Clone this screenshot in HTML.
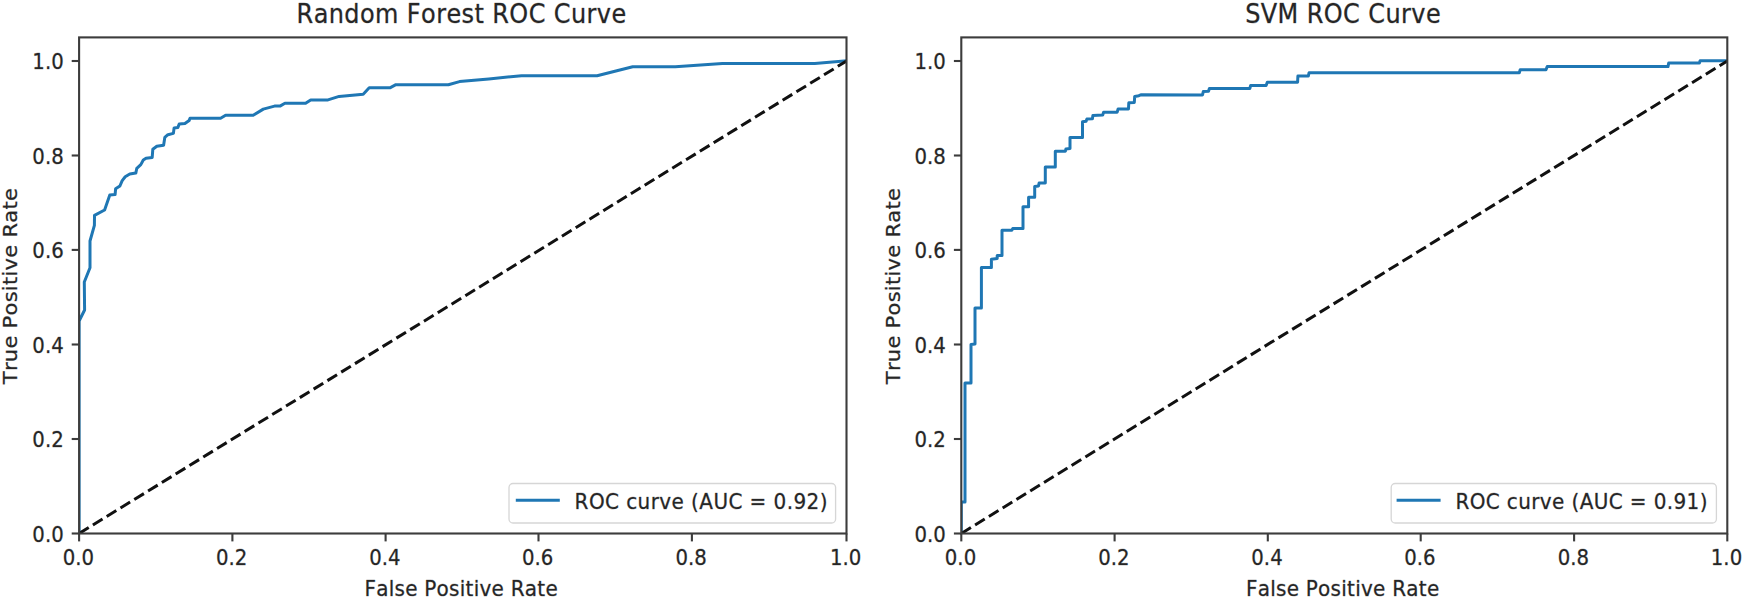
<!DOCTYPE html>
<html lang="en">
<head>
<meta charset="utf-8">
<title>ROC Curves</title>
<style>
html,body{margin:0;padding:0;background:#fff;}
body{width:1744px;height:598px;overflow:hidden;}
svg{display:block;}
text{font-family:"DejaVu Sans","Liberation Sans",sans-serif;fill:#262626;stroke:#262626;stroke-opacity:0.33;stroke-width:0.8px;stroke-linejoin:round;}

.tk{font-size:19.7px;}
.lb{font-size:20px;font-kerning:none;letter-spacing:0.25px;}
.tt{font-size:24px;font-kerning:none;letter-spacing:0.4px;}
</style>
</head>
<body>
<svg width="1744" height="598" viewBox="0 0 1744 598">
<rect x="0" y="0" width="1744" height="598" fill="#ffffff"/>
<g>

<g id="plot1">
<clipPath id="clip1"><rect x="79.1" y="37.4" width="767.4" height="496.1"/></clipPath>
<g clip-path="url(#clip1)">
<path d="M79.1 533.4 L79.1 321.0 L84.6 310.0 L84.3 282.0 L90.0 267.7 L90.0 241.0 L94.4 225.4 L94.5 215.4 L104.6 210.0 L109.8 195.0 L115.1 194.5 L115.6 188.8 L119.9 186.0 L122.2 180.6 L125.2 176.8 L129.8 174.0 L135.8 173.1 L136.8 168.3 L140.8 164.6 L143.3 160.0 L146.0 158.3 L152.2 157.5 L152.8 149.3 L156.8 146.3 L163.6 145.2 L164.8 137.4 L167.9 134.7 L173.4 133.4 L174.1 127.9 L177.9 127.4 L179.2 124.1 L184.9 123.4 L189.2 120.4 L190.0 118.3 L220.6 118.3 L225.6 115.3 L253.2 115.3 L263.3 109.1 L274.5 106.1 L280.4 105.9 L284.9 103.3 L305.6 103.3 L310.7 99.9 L328.0 99.9 L339.1 96.4 L363.2 94.2 L369.2 87.8 L389.9 87.8 L395.9 84.7 L448.4 84.7 L459.5 81.6 L488.8 78.9 L521.5 75.7 L597.1 75.8 L632.7 66.8 L675.3 66.8 L722.4 63.4 L814.8 63.4 L846.4 60.8" fill="none" stroke="#1f77b4" stroke-width="3" stroke-linejoin="round" stroke-linecap="square"/>
<path d="M79.1 533.5 L846.5 61.0" fill="none" stroke="#111" stroke-width="3" stroke-dasharray="11.3 4.9"/>
</g>
<path d="M79.1 533.5 v7.9" stroke="#3c3c3c" stroke-width="2.1"/>
<text class="tk" transform="translate(78.3 564.9) scale(1 1.09)" text-anchor="middle">0.0</text>
<path d="M79.1 533.5 h-7.4" stroke="#3c3c3c" stroke-width="2.1"/>
<text class="tk" transform="translate(63.7 541.9) scale(1 1.09)" text-anchor="end">0.0</text>
<path d="M232.4 533.5 v7.9" stroke="#3c3c3c" stroke-width="2.1"/>
<text class="tk" transform="translate(231.6 564.9) scale(1 1.09)" text-anchor="middle">0.2</text>
<path d="M79.1 439.0 h-7.4" stroke="#3c3c3c" stroke-width="2.1"/>
<text class="tk" transform="translate(63.7 447.4) scale(1 1.09)" text-anchor="end">0.2</text>
<path d="M385.6 533.5 v7.9" stroke="#3c3c3c" stroke-width="2.1"/>
<text class="tk" transform="translate(384.8 564.9) scale(1 1.09)" text-anchor="middle">0.4</text>
<path d="M79.1 344.5 h-7.4" stroke="#3c3c3c" stroke-width="2.1"/>
<text class="tk" transform="translate(63.7 352.9) scale(1 1.09)" text-anchor="end">0.4</text>
<path d="M538.5 533.5 v7.9" stroke="#3c3c3c" stroke-width="2.1"/>
<text class="tk" transform="translate(537.7 564.9) scale(1 1.09)" text-anchor="middle">0.6</text>
<path d="M79.1 249.9 h-7.4" stroke="#3c3c3c" stroke-width="2.1"/>
<text class="tk" transform="translate(63.7 258.3) scale(1 1.09)" text-anchor="end">0.6</text>
<path d="M691.9 533.5 v7.9" stroke="#3c3c3c" stroke-width="2.1"/>
<text class="tk" transform="translate(691.1 564.9) scale(1 1.09)" text-anchor="middle">0.8</text>
<path d="M79.1 155.5 h-7.4" stroke="#3c3c3c" stroke-width="2.1"/>
<text class="tk" transform="translate(63.7 163.9) scale(1 1.09)" text-anchor="end">0.8</text>
<path d="M846.5 533.5 v7.9" stroke="#3c3c3c" stroke-width="2.1"/>
<text class="tk" transform="translate(845.7 564.9) scale(1 1.09)" text-anchor="middle">1.0</text>
<path d="M79.1 61.0 h-7.4" stroke="#3c3c3c" stroke-width="2.1"/>
<text class="tk" transform="translate(63.7 69.4) scale(1 1.09)" text-anchor="end">1.0</text>
<rect x="79.1" y="37.4" width="767.4" height="496.1" fill="none" stroke="#3c3c3c" stroke-width="2.1"/>
<text class="tt" transform="translate(461.6 23.2) scale(1 1.09)" text-anchor="middle">Random Forest ROC Curve</text>
<text class="lb" transform="translate(461.2 595.6) scale(1 1.09)" text-anchor="middle">False Positive Rate</text>
<text class="lb" transform="translate(17.4 286.0) rotate(-90) scale(1.052 1)" text-anchor="middle">True Positive Rate</text>
<rect x="509.0" y="483.5" width="326.6" height="39.5" rx="4" ry="4" fill="#fff" fill-opacity="0.8" stroke="#cccccc" stroke-opacity="0.8" stroke-width="1.3"/>
<path d="M517.3 500.2 h41" stroke="#1f77b4" stroke-width="3" stroke-linecap="square"/>
<text class="lb" transform="translate(574.6 509.4) scale(1 1.09)" text-anchor="start" style="letter-spacing:0.42px">ROC curve (AUC = 0.92)</text>
</g>
<g id="plot2">
<clipPath id="clip2"><rect x="961.3" y="37.4" width="766.0" height="496.1"/></clipPath>
<g clip-path="url(#clip2)">
<path d="M961.3 533.4 L961.3 502.1 L965.0 502.1 L965.0 383.0 L971.0 383.0 L971.0 344.5 L975.0 344.0 L975.0 308.0 L981.4 308.0 L981.4 267.4 L991.4 267.4 L991.4 259.2 L997.2 258.6 L997.2 255.5 L1002.0 255.5 L1002.0 230.3 L1011.8 230.3 L1012.7 228.6 L1023.0 228.6 L1023.0 206.8 L1028.6 206.8 L1028.6 197.2 L1034.7 197.2 L1034.7 186.5 L1038.5 186.0 L1039.1 183.1 L1045.3 183.0 L1045.3 167.0 L1055.3 167.0 L1055.3 151.3 L1065.4 151.2 L1065.9 149.0 L1070.0 148.6 L1070.0 137.4 L1082.5 137.4 L1082.5 121.8 L1086.1 121.2 L1086.9 119.0 L1092.4 118.7 L1092.9 115.4 L1102.7 115.0 L1103.6 112.2 L1117.2 112.2 L1118.1 108.9 L1128.5 108.9 L1128.8 102.8 L1134.3 102.5 L1134.7 96.4 L1138.9 95.7 L1140.8 94.8 L1202.5 94.9 L1203.3 91.6 L1208.5 91.3 L1209.4 88.5 L1249.8 88.5 L1250.6 85.6 L1266.1 85.6 L1267.3 82.3 L1297.6 82.3 L1297.9 76.1 L1308.3 76.1 L1309.1 72.7 L1519.3 72.7 L1520.2 69.7 L1546.0 69.7 L1547.2 66.6 L1668.0 66.6 L1668.7 63.1 L1699.4 63.1 L1700.1 60.8 L1727.3 60.8" fill="none" stroke="#1f77b4" stroke-width="3" stroke-linejoin="round" stroke-linecap="square"/>
<path d="M961.3 533.5 L1727.3 61.0" fill="none" stroke="#111" stroke-width="3" stroke-dasharray="11.3 4.9"/>
</g>
<path d="M961.3 533.5 v7.9" stroke="#3c3c3c" stroke-width="2.1"/>
<text class="tk" transform="translate(960.5 564.9) scale(1 1.09)" text-anchor="middle">0.0</text>
<path d="M961.3 533.5 h-7.4" stroke="#3c3c3c" stroke-width="2.1"/>
<text class="tk" transform="translate(945.9 541.9) scale(1 1.09)" text-anchor="end">0.0</text>
<path d="M1114.6 533.5 v7.9" stroke="#3c3c3c" stroke-width="2.1"/>
<text class="tk" transform="translate(1113.8 564.9) scale(1 1.09)" text-anchor="middle">0.2</text>
<path d="M961.3 439.0 h-7.4" stroke="#3c3c3c" stroke-width="2.1"/>
<text class="tk" transform="translate(945.9 447.4) scale(1 1.09)" text-anchor="end">0.2</text>
<path d="M1267.8 533.5 v7.9" stroke="#3c3c3c" stroke-width="2.1"/>
<text class="tk" transform="translate(1267.0 564.9) scale(1 1.09)" text-anchor="middle">0.4</text>
<path d="M961.3 344.5 h-7.4" stroke="#3c3c3c" stroke-width="2.1"/>
<text class="tk" transform="translate(945.9 352.9) scale(1 1.09)" text-anchor="end">0.4</text>
<path d="M1420.7 533.5 v7.9" stroke="#3c3c3c" stroke-width="2.1"/>
<text class="tk" transform="translate(1419.9 564.9) scale(1 1.09)" text-anchor="middle">0.6</text>
<path d="M961.3 249.9 h-7.4" stroke="#3c3c3c" stroke-width="2.1"/>
<text class="tk" transform="translate(945.9 258.3) scale(1 1.09)" text-anchor="end">0.6</text>
<path d="M1574.1 533.5 v7.9" stroke="#3c3c3c" stroke-width="2.1"/>
<text class="tk" transform="translate(1573.3 564.9) scale(1 1.09)" text-anchor="middle">0.8</text>
<path d="M961.3 155.5 h-7.4" stroke="#3c3c3c" stroke-width="2.1"/>
<text class="tk" transform="translate(945.9 163.9) scale(1 1.09)" text-anchor="end">0.8</text>
<path d="M1727.3 533.5 v7.9" stroke="#3c3c3c" stroke-width="2.1"/>
<text class="tk" transform="translate(1726.5 564.9) scale(1 1.09)" text-anchor="middle">1.0</text>
<path d="M961.3 61.0 h-7.4" stroke="#3c3c3c" stroke-width="2.1"/>
<text class="tk" transform="translate(945.9 69.4) scale(1 1.09)" text-anchor="end">1.0</text>
<rect x="961.3" y="37.4" width="766.0" height="496.1" fill="none" stroke="#3c3c3c" stroke-width="2.1"/>
<text class="tt" transform="translate(1343.1 23.2) scale(1 1.09)" text-anchor="middle">SVM ROC Curve</text>
<text class="lb" transform="translate(1342.7 595.6) scale(1 1.09)" text-anchor="middle">False Positive Rate</text>
<text class="lb" transform="translate(899.6 286.0) rotate(-90) scale(1.052 1)" text-anchor="middle">True Positive Rate</text>
<rect x="1391.2" y="483.5" width="325.2" height="39.5" rx="4" ry="4" fill="#fff" fill-opacity="0.8" stroke="#cccccc" stroke-opacity="0.8" stroke-width="1.3"/>
<path d="M1398.1 500.2 h41" stroke="#1f77b4" stroke-width="3" stroke-linecap="square"/>
<text class="lb" transform="translate(1455.4 509.4) scale(1 1.09)" text-anchor="start" style="letter-spacing:0.38px">ROC curve (AUC = 0.91)</text>
</g>
</g>
</svg>
</body>
</html>
